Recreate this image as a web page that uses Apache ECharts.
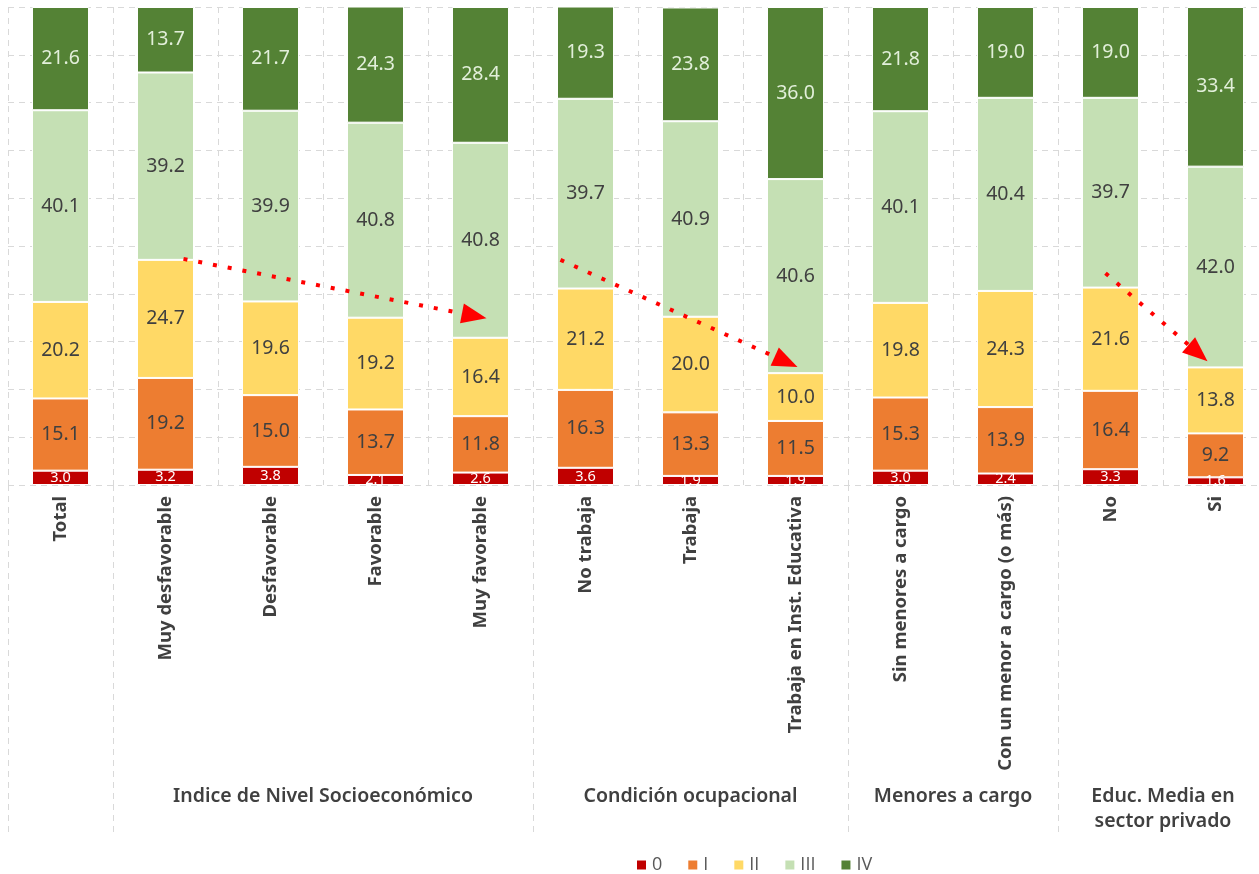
<!DOCTYPE html>
<html><head><meta charset="utf-8">
<script src="https://cdn.jsdelivr.net/npm/echarts@6/dist/echarts.min.js"></script>
<style>html,body{margin:0;padding:0;background:#fff;overflow:hidden}#c{width:1268px;height:874px}</style>
</head><body><div id="c"></div>
<script>
// ---------- data ----------
const categories = ['Total','Muy desfavorable','Desfavorable','Favorable','Muy favorable','No trabaja','Trabaja','Trabaja en Inst. Educativa','Sin menores a cargo','Con un menor a cargo (o más)','No','Si'];
const seriesNames = ['0','I','II','III','IV'];
const level0   = [3.0, 3.2, 3.8, 2.1, 2.6, 3.6, 1.9, 1.9, 3.0, 2.4, 3.3, 1.6];
const levelI   = [15.1, 19.2, 15.0, 13.7, 11.8, 16.3, 13.3, 11.5, 15.3, 13.9, 16.4, 9.2];
const levelII  = [20.2, 24.7, 19.6, 19.2, 16.4, 21.2, 20.0, 10.0, 19.8, 24.3, 21.6, 13.8];
const levelIII = [40.1, 39.2, 39.9, 40.8, 40.8, 39.7, 40.9, 40.6, 40.1, 40.4, 39.7, 42.0];
const levelIV  = [21.6, 13.7, 21.7, 24.3, 28.4, 19.3, 23.8, 36.0, 21.8, 19.0, 19.0, 33.4];
const groupNames  = ['', 'Indice de Nivel Socioeconómico', 'Condición ocupacional', 'Menores a cargo', 'Educ. Media en\nsector privado'];
const groupStarts = [0, 1, 5, 8, 10];
const groupEnds   = [1, 5, 8, 10, 12];
// annotation arrows: [category index, value] for start and end
const arrowStarts = [[1, 47.3], [5, 47.1], [10, 44.3]];
const arrowEnds   = [[4, 34.9], [7, 24.7], [11, 25.9]];
const arrowStartDx = [18, -25, -5];
const arrowEndDx   = [6, 2, -8];

// ---------- styles ----------
const colors = ['#C00000', '#ED7D31', '#FFD966', '#C5E0B4', '#548235'];
const labelColors = ['#ffffff', '#404040', '#404040', '#404040', '#E2EFDA'];
const labelSizes = [14.5, 19.5, 19.5, 19.5, 19.5];
const values = [level0, levelI, levelII, levelIII, levelIV];
const FONT = 'Noto Sans';

const chart = echarts.init(document.getElementById('c'), null, {renderer: 'canvas'});
const series = seriesNames.map((n, i) => ({
  name: n, type: 'bar', stack: 'total', barWidth: 57,
  data: values[i],
  itemStyle: {color: colors[i], borderColor: '#ffffff', borderWidth: 1},
  label: {show: true, position: 'inside', color: labelColors[i], fontSize: labelSizes[i], fontFamily: FONT,
          formatter: p => p.value.toFixed(1)},
  emphasis: {disabled: true}
}));

chart.setOption({
  animation: false,
  backgroundColor: '#ffffff',
  textStyle: {fontFamily: FONT},
  grid: {left: 8, right: 0, top: 7, bottom: 389, containLabel: false},
  legend: {data: seriesNames, icon: 'rect', itemWidth: 11, itemHeight: 11, itemGap: 24,
           left: 630, top: 851, textStyle: {fontSize: 18, color: '#595959', fontFamily: 'Open Sans'}},
  xAxis: {type: 'category', data: categories,
          axisLine: {show: false}, axisTick: {show: false},
          axisLabel: {rotate: 90, interval: 0, margin: 11, fontSize: 18.5, fontWeight: 'bold', color: '#404040', fontFamily: FONT},
          splitLine: {show: true, lineStyle: {color: '#d9d9d9', type: [6, 5], width: 1}}},
  yAxis: {type: 'value', min: 0, max: 100, interval: 10,
          axisLabel: {show: false}, axisLine: {show: false}, axisTick: {show: false},
          splitLine: {show: true, lineStyle: {color: '#d9d9d9', type: [6, 5], width: 1}}},
  series: series
});

// ---------- annotations ----------
const p0 = chart.convertToPixel({gridIndex: 0}, [0, 0]);
const p1 = chart.convertToPixel({gridIndex: 0}, [1, 0]);
const band = p1[0] - p0[0];
const baseY = p0[1];
const graphics = [];
const sepIdx = [0, 1, 5, 8, 10, 12];
sepIdx.forEach(b => {
  const x = Math.round(p0[0] + (b - 0.5) * band) + 0.5;
  graphics.push({type: 'line', silent: true, z: 100, shape: {x1: x, y1: baseY, x2: x, y2: 836},
    style: {stroke: '#d9d9d9', lineWidth: 1, lineDash: [6, 5]}});
});
groupNames.forEach((g, i) => {
  if (!g) return;
  const cx = p0[0] + ((groupStarts[i] + groupEnds[i] - 1) / 2) * band;
  graphics.push({type: 'text', silent: true, z: 100, x: cx, y: 784,
    style: {text: g, fill: '#404040', font: '600 19.5px ' + FONT, textAlign: 'center', textVerticalAlign: 'top', lineHeight: 25}});
});
arrowStarts.forEach((s, i) => {
  const a = chart.convertToPixel({gridIndex: 0}, s);
  const e = chart.convertToPixel({gridIndex: 0}, arrowEnds[i]);
  const x1 = a[0] + arrowStartDx[i], y1 = a[1];
  const x2 = e[0] + arrowEndDx[i], y2 = e[1];
  const ang = Math.atan2(y2 - y1, x2 - x1);
  const L = 25, W = 10;
  const bx = x2 - L * Math.cos(ang), by = y2 - L * Math.sin(ang);
  const nx = -Math.sin(ang), ny = Math.cos(ang);
  graphics.push({type: 'line', silent: true, z: 100, shape: {x1: x1, y1: y1, x2: bx, y2: by},
    style: {stroke: '#FF0000', lineWidth: 4, lineDash: [4, 11], lineCap: 'butt'}});
  graphics.push({type: 'polygon', silent: true, z: 100,
    shape: {points: [[x2, y2], [bx + nx * W, by + ny * W], [bx - nx * W, by - ny * W]]},
    style: {fill: '#FF0000'}});
});
chart.setOption({graphic: graphics});
</script>
</body></html>
